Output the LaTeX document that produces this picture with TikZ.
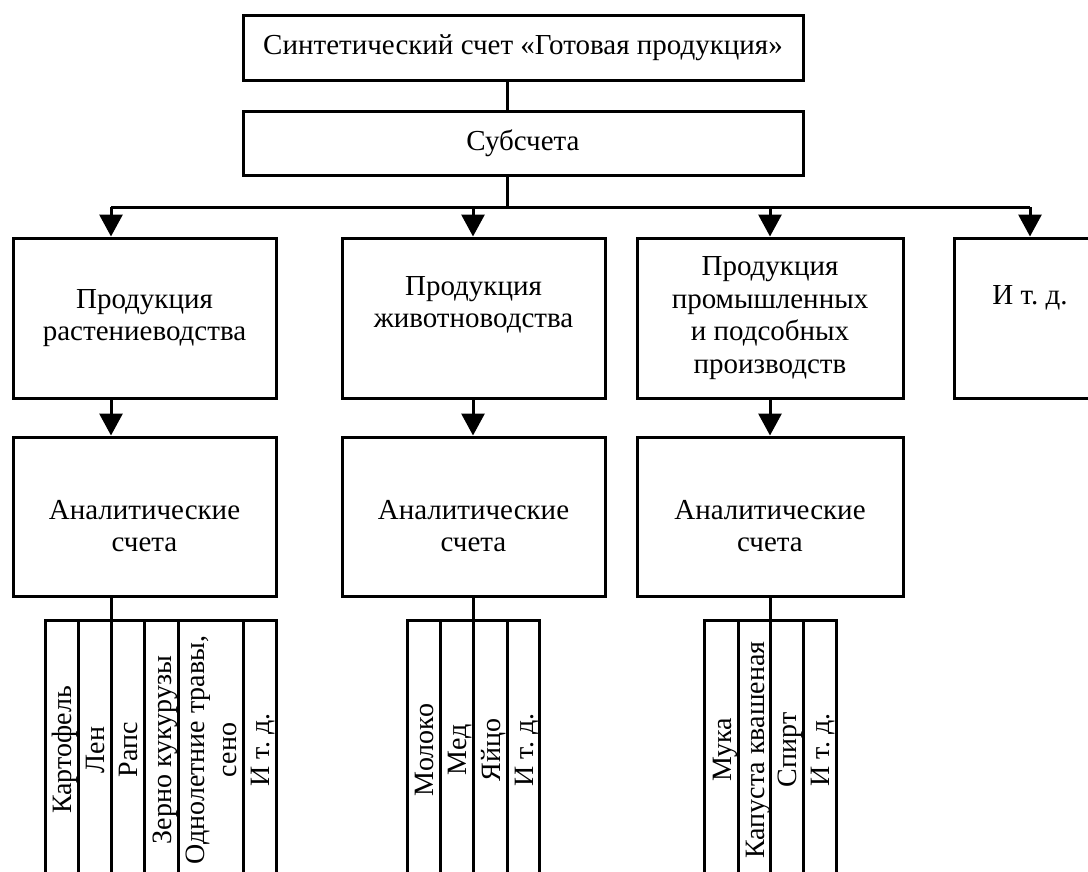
\documentclass[tikz,border=0pt]{standalone}
\usepackage{fontspec}
\setmainfont{Liberation Serif}
\usetikzlibrary{arrows.meta}

\begin{document}
\frenchspacing
\begin{tikzpicture}[x=1pt,y=-1pt,
  box/.style={draw,line width=3pt,inner sep=0pt,align=center,font=\fontsize{29}{32.5}\selectfont},
  cell/.style={draw,line width=3pt,inner sep=0pt,outer sep=0pt,minimum height=260pt,font=\fontsize{28}{32}\selectfont},
  arr/.style={line width=3pt,-{Triangle[width=23pt,length=22pt]}},
  link/.style={line width=3pt}]
\useasboundingbox (0,0) rectangle (1088,871);
\clip (0,0) rectangle (1088,871);

% Synthetic account
\node[box,minimum width=560pt,minimum height=65pt] (synt) at (523,47.5) {Синтетический счет «Готовая продукция»};
\node[box,minimum width=560pt,minimum height=64pt] (sub) at (523,143) {Субсчета};

% Subaccounts
\node[box,minimum width=263pt,minimum height=160pt] (plant) at (144.5,318) {Продукция\\растениеводства};
\node[box,minimum width=263pt,minimum height=160pt] (anim) at (473.5,318) {Продукция\\животноводства\rule[-32pt]{0pt}{0pt}};
\node[box,minimum width=266pt,minimum height=160pt] (ind) at (770,318) {Продукция\\промышленных\\и подсобных\\производств};
\node[box,minimum width=152pt,minimum height=160pt] (etc) at (1030,318) {И т. д.\rule[-46pt]{0pt}{0pt}};

% Analytical accounts
\node[box,minimum width=263pt,minimum height=159pt] (plantacc) at (144.5,516.5) {\rule{0pt}{38pt}Аналитические\\счета};
\node[box,minimum width=263pt,minimum height=159pt] (animacc) at (473.5,516.5) {\rule{0pt}{38pt}Аналитические\\счета};
\node[box,minimum width=266pt,minimum height=159pt] (indacc) at (770,516.5) {\rule{0pt}{38pt}Аналитические\\счета};

% Items
\foreach \n/\a/\b/\t in {1/45/78/Картофель, 2/78/111/Лен, 3/111/144/Рапс, 4/144/178/{Зерно кукурузы}, 5/178/243/{Однолетние травы,\\сено}, 6/243/276/{И т. д.}}
  \node[cell,minimum width={(\b-\a)*1pt}] (plant\n) at ({(\a+\b)/2},750) {\rotatebox{90}{\raisebox{-4pt}[\height][\depth]{\begin{tabular}{@{}c@{}}\t\end{tabular}}}};
\foreach \n/\a/\b/\t in {1/407/440/Молоко, 2/440/473/Мед, 3/473/507/Яйцо, 4/507/539/{И т. д.}}
  \node[cell,minimum width={(\b-\a)*1pt}] (anim\n) at ({(\a+\b)/2},750) {\rotatebox{90}{\raisebox{-4pt}[\height][\depth]{\begin{tabular}{@{}c@{}}\t\end{tabular}}}};
\foreach \n/\a/\b/\t in {1/704/738/Мука, 2/738/770/{Капуста квашеная}, 3/770/803/Спирт, 4/803/836/{И т. д.}}
  \node[cell,minimum width={(\b-\a)*1pt}] (ind\n) at ({(\a+\b)/2},750) {\rotatebox{90}{\raisebox{-4pt}[\height][\depth]{\begin{tabular}{@{}c@{}}\t\end{tabular}}}};

% Connectors
\coordinate (spine) at (507,207);
\coordinate (x1) at (111,207);
\coordinate (x2) at (473,207);
\coordinate (x3) at (770,207);
\coordinate (x4) at (1030,207);
\draw[link] (synt.south -| spine) -- (sub.north -| spine);
\draw[link] (sub.south -| spine) -- (spine);
\draw[link] (x1) -- (x4);
\foreach \i/\b in {1/plant,2/anim,3/ind,4/etc}
  \draw[arr] (x\i) -- (x\i |- \b.north);
\foreach \i/\b in {1/plant,2/anim,3/ind} {
  \draw[arr] (\b.south -| x\i) -- (\b acc.north -| x\i);
  \draw[link] (\b acc.south -| x\i) -- (\b3.north west);
}
\end{tikzpicture}
\end{document}
